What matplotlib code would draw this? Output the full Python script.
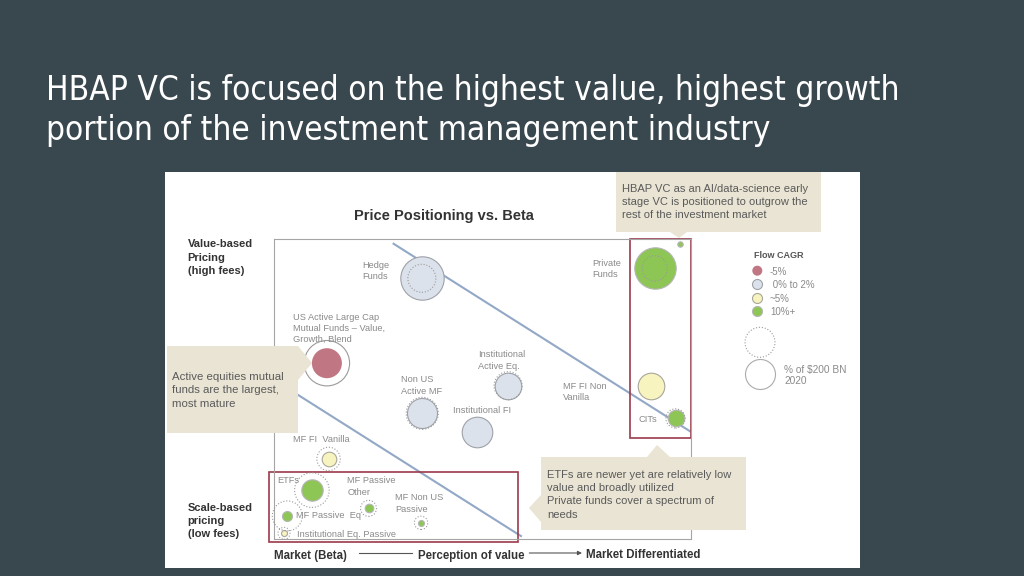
import matplotlib
matplotlib.use("Agg")
import matplotlib.pyplot as plt
from matplotlib.patches import Rectangle, Polygon
import numpy as np

# ---------------- data ----------------
segments = ["Hedge Funds", "US Active Large Cap MF", "Non US Active MF", "Institutional Active Eq.",
            "Institutional FI", "MF FI Non Vanilla", "CITs", "Private Funds", "HBAP VC",
            "MF FI Vanilla", "ETFs", "MF Passive Eq", "Institutional Eq. Passive",
            "MF Passive Other", "MF Non US Passive"]
# perception of value (0 = market beta, 100 = market differentiated)
value_pos = [35.5, 12.7, 35.6, 56.2, 48.7, 90.4, 96.4, 91.4, 97.4, 13.1, 9.1, 3.2, 2.4, 22.7, 35.3]
# price positioning (0 = scale-based / low fees, 100 = value-based / high fees)
price_pos = [86.9, 58.6, 41.9, 51.1, 35.8, 51.0, 40.2, 90.2, 98.3, 26.7, 16.3, 7.7, 1.9, 10.2, 5.4]
# bubble sizes (radius units)
size_fill = [21.7, 15.0, 15.0, 13.3, 15.3, 13.3, 8.3, 20.7, 2.7, 7.3, 10.7, 5.0, 3.0, 4.3, 3.0]
size_ring = [14.0, 22.7, 16.0, 14.0, 0, 0, 9.6, 12.7, 0, 11.7, 17.3, 15.0, 6.0, 8.0, 6.7]
ring_style = [":", "-", ":", ":", ":", ":", ":", ":", ":", ":", ":", ":", ":", ":", ":"]
flow_cagr = ["flat", "decline", "flat", "flat", "flat", "moderate", "high", "high", "high",
             "moderate", "high", "high", "moderate", "high", "high"]

bubble_labels = ["Hedge\nFunds", "US Active Large Cap\nMutual Funds \u2013 Value,\nGrowth, Blend",
                 "Non US\nActive MF", "Institutional\nActive Eq.", "Institutional FI",
                 "MF FI Non\nVanilla", "CITs", "Private\nFunds", "", "MF FI  Vanilla", "ETFs",
                 "MF Passive  Eq", "Institutional Eq. Passive", "MF Passive\nOther",
                 "MF Non US\nPassive"]
label_x = [21.2, 4.6, 30.4, 49.0, 43.0, 69.4, 87.6, 76.5, 0, 4.5, 0.8, 5.4, 5.6, 17.6, 29.0]
label_y = [91.6, 74.3, 53.4, 61.7, 43.2, 51.1, 40.2, 92.2, 0, 33.6, 19.7, 8.2, 1.9, 19.7, 14.1]

# value / price trend guides
guide1_x = [28.5, 100.0]
guide1_y = [98.6, 35.8]
guide2_x = [0.0, 59.5]
guide2_y = [53.1, 0.8]

legend_keys = ["decline", "flat", "moderate", "high"]
legend_labels = ["-5%", " 0% to 2%", "~5%", "10%+"]

title_lines = ["HBAP VC is focused on the highest value, highest growth",
               "portion of the investment management industry"]

# ---------------- style ----------------
fill_colors = {"decline": "#C07783", "flat": "#DCE2EB", "moderate": "#F8F4C0", "high": "#8DC655"}
edge_colors = {"decline": "none", "flat": "#9EA2A8", "moderate": "#A8A69A", "high": "#B5B5B5"}
BG = "#39474F"
BEIGE = "#E9E4D3"
RED = "#9C3A4A"
GUIDE = "#92A8C6"
LABEL_GRAY = "#8A8A8A"
DARK = "#333333"
FONT = ["Liberation Sans", "DejaVu Sans"]


def s_from_r(r):
    return (2 * r * 0.72) ** 2


def lines_text(axis, x, y0, text, step, **kw):
    """Draw each line separately; y0 is the centre of the first line, step the spacing
    in the axis' y units (positive = downward on screen)."""
    for i, line in enumerate(text.split("\n")):
        axis.text(x, y0 + i * step, line, va="center_baseline", ha="left", **kw)


fig = plt.figure(figsize=(10.24, 5.76), dpi=100, facecolor=BG)

# background layer (pixel coordinates)
bg = fig.add_axes([0, 0, 1, 1], zorder=0)
bg.set_xlim(0, 1024); bg.set_ylim(576, 0); bg.axis("off")
bg.add_patch(Rectangle((165, 172), 695, 396, facecolor="white", edgecolor="none"))

# plot layer
ax = fig.add_axes([274 / 1024, 1 - 539 / 576, 416.5 / 1024, 300 / 576], zorder=1)
ax.set_xlim(0, 100); ax.set_ylim(0, 100)
ax.patch.set_alpha(0)
ax.set_xticks([]); ax.set_yticks([])
for sp in ax.spines.values():
    sp.set_color("#A5A5A5"); sp.set_linewidth(0.8)

ax.plot(guide1_x, guide1_y, color=GUIDE, lw=1.5, zorder=1, solid_capstyle="butt")
ax.plot(guide2_x, guide2_y, color=GUIDE, lw=1.5, zorder=1, solid_capstyle="butt")

ax.add_patch(Rectangle((85.5, 33.8), 14.5, 66.1, fill=False, edgecolor=RED, lw=1.2,
                       zorder=2, clip_on=False))
ax.add_patch(Rectangle((-1.1, -1.0), 59.8, 23.2, fill=False, edgecolor=RED, lw=1.2,
                       zorder=2, clip_on=False))

LINE_STEP_DATA = -11.3 / 3.0  # 11.3 px per line, in data units (y grows upward)
for i in range(len(segments)):
    c = flow_cagr[i]
    ax.scatter(value_pos[i], price_pos[i], s=s_from_r(size_fill[i]), color=fill_colors[c],
               edgecolors=edge_colors[c], linewidths=0.8, zorder=3, clip_on=False)
    if size_ring[i] > 0:
        ax.scatter(value_pos[i], price_pos[i], s=s_from_r(size_ring[i]), facecolors="none",
                   edgecolors="#9A9A9A", linewidths=0.8, linestyles=ring_style[i],
                   zorder=4, clip_on=False)
    if bubble_labels[i]:
        lines_text(ax, label_x[i], label_y[i], bubble_labels[i], LINE_STEP_DATA,
                   fontsize=6.7, color=LABEL_GRAY, family=FONT, zorder=5, clip_on=False)

# overlay layer (pixel coordinates)
ov = fig.add_axes([0, 0, 1, 1], zorder=2)
ov.set_xlim(0, 1024); ov.set_ylim(576, 0); ov.axis("off"); ov.patch.set_alpha(0)

# main title
TFONT = ["Liberation Sans Narrow", "DejaVu Sans"]
t1 = ov.text(46, 100, title_lines[0], color="white", fontsize=30, va="baseline", ha="left",
             family=TFONT, stretch="condensed")
fig.canvas.draw()
w = t1.get_window_extent(fig.canvas.get_renderer()).width
fs = 30 * 851 / w
t1.set_fontsize(fs)
ov.text(46, 140, title_lines[1], color="white", fontsize=fs, va="baseline", ha="left",
        family=TFONT, stretch="condensed")

# chart title
ov.text(443.7, 214.3, "Price Positioning vs. Beta", fontsize=10.5, fontweight="bold",
        color=DARK, ha="center", va="center_baseline", family=FONT)

# axis descriptors
lines_text(ov, 187.7, 243.3, "Value-based\nPricing\n(high fees)", 13.3, fontsize=8,
           fontweight="bold", color=DARK, family=FONT)
lines_text(ov, 187.7, 506.7, "Scale-based\npricing\n(low fees)", 13.3, fontsize=8,
           fontweight="bold", color=DARK, family=FONT)
ov.text(274.3, 554, "Market (Beta)", fontsize=8.3, fontweight="bold", color=DARK,
        ha="left", va="center_baseline", family=FONT)
ov.plot([359, 411.7], [553, 553], color="#555555", lw=0.8)
ov.text(418.3, 554, "Perception of value", fontsize=8.3, fontweight="bold", color=DARK,
        ha="left", va="center_baseline", family=FONT)
ov.annotate("", xy=(582, 553), xytext=(529.3, 553),
            arrowprops=dict(arrowstyle="-|>", color="#555555", lw=0.8, mutation_scale=6,
                            shrinkA=0, shrinkB=0))
ov.text(586, 554, "Market Differentiated", fontsize=8.3, fontweight="bold", color=DARK,
        ha="left", va="center_baseline", family=FONT)

# callouts
ov.add_patch(Polygon([(167, 346), (298, 346), (312, 363), (298, 380), (298, 433), (167, 433)],
                     closed=True, facecolor=BEIGE, edgecolor="none", zorder=3))
lines_text(ov, 172, 375.7, "Active equities mutual\nfunds are the largest,\nmost mature", 13.5,
           fontsize=8.2, color="#5A5A5A", family=FONT, zorder=4)

ov.add_patch(Polygon([(616, 172), (821, 172), (821, 232), (687, 232), (679, 238), (670, 232),
                      (616, 232)], closed=True, facecolor=BEIGE, edgecolor="none", zorder=3))
lines_text(ov, 621.7, 188.3,
           "HBAP VC as an AI/data-science early\nstage VC is positioned to outgrow the\nrest of the investment market",
           13.0, fontsize=8, color="#5A5A5A", family=FONT, zorder=4)

ov.add_patch(Polygon([(541, 457), (647, 457), (657, 445), (670, 457), (746, 457), (746, 530),
                      (541, 530), (541, 522), (529, 508), (541, 495)], closed=True,
                     facecolor=BEIGE, edgecolor="none", zorder=3))
lines_text(ov, 547.3, 474.3,
           "ETFs are newer yet are relatively low\nvalue and broadly utilized\nPrivate funds cover a spectrum of\nneeds",
           13.1, fontsize=8, color="#5A5A5A", family=FONT, zorder=4)

# legend
ov.text(754, 255, "Flow CAGR", fontsize=6.5, fontweight="bold", color="#555555", ha="left",
        va="center_baseline", family=FONT)
leg_y = [270.7, 284.3, 297.7, 311.0]
for k, lab, yy in zip(legend_keys, legend_labels, leg_y):
    ov.scatter(757.3, yy, s=s_from_r(5), color=fill_colors[k],
               edgecolors=edge_colors[k], linewidths=0.8, zorder=4)
    ov.text(770, yy, lab, fontsize=7, color=LABEL_GRAY, ha="left", va="center_baseline",
            family=FONT)
ov.scatter(760, 342.3, s=s_from_r(15), facecolors="white", edgecolors="#9A9A9A",
           linewidths=0.8, linestyles=":", zorder=4)
ov.scatter(760, 374, s=s_from_r(15), facecolors="white", edgecolors="#ABABAB",
           linewidths=0.8, zorder=4)
lines_text(ov, 784.3, 369, "% of $200 BN\n2020", 11.0, fontsize=7.3, color=LABEL_GRAY,
           family=FONT)

fig.savefig("out.png", dpi=100, facecolor=BG)
